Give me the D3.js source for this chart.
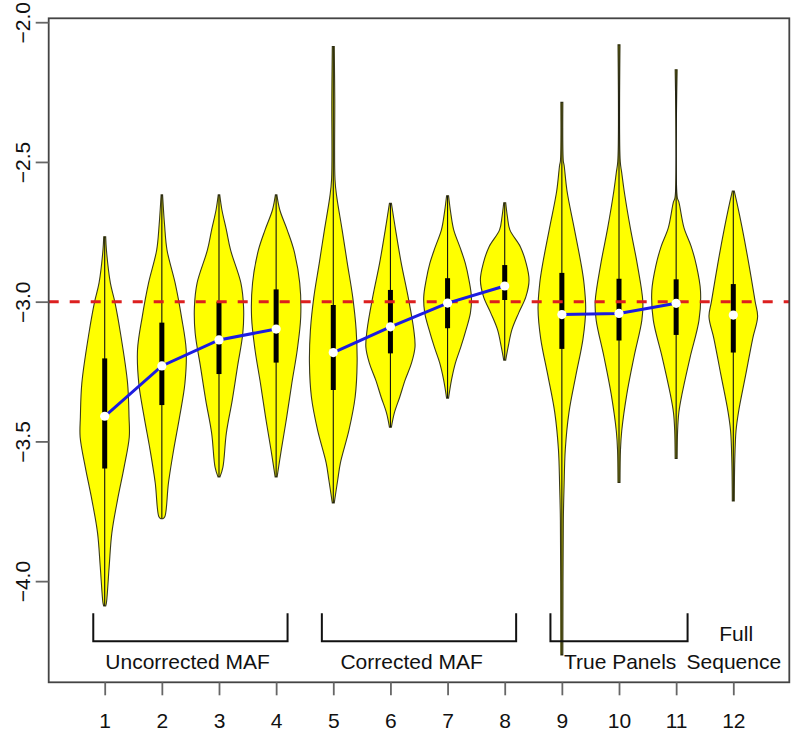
<!DOCTYPE html>
<html><head><meta charset="utf-8">
<script src="https://cdn.jsdelivr.net/npm/d3@7"></script>
<style>body{margin:0;background:#fff}</style>
</head><body>
<svg id="c" width="797" height="732"></svg>
<script>
// ---- data ----
const categories = ["1","2","3","4","5","6","7","8","9","10","11","12"];
const yTicks = [-4.0, -3.5, -3.0, -2.5, -2.0];
const medians = [-3.41, -3.23, -3.137, -3.098, -3.182, -3.09, -3.005, -2.944, -3.046, -3.042, -3.006, -3.048];
const q1 = [-3.597, -3.37, -3.259, -3.218, -3.316, -3.185, -3.095, -2.994, -3.169, -3.139, -3.119, -3.182];
const q3 = [-3.203, -3.075, -3.0, -2.956, -3.012, -2.958, -2.916, -2.869, -2.897, -2.918, -2.92, -2.937];
// density profiles: [value, relative density]
const densities = [
  [[-2.768,0.04],[-2.815,0.07],[-2.933,0.23],[-3.0,0.41],[-3.112,0.64],[-3.291,0.93],[-3.413,0.99],[-3.484,1.0],[-3.592,0.79],[-3.71,0.52],[-3.828,0.29],[-3.95,0.18],[-4.078,0.07],[-4.089,0.04]],
  [[-2.618,0.03],[-2.725,0.11],[-2.815,0.21],[-2.933,0.54],[-3.055,0.8],[-3.172,0.99],[-3.291,0.94],[-3.413,0.72],[-3.53,0.48],[-3.648,0.27],[-3.77,0.12],[-3.777,0.04]],
  [[-2.618,0.03],[-2.672,0.12],[-2.743,0.3],[-2.815,0.47],[-2.933,0.89],[-3.019,1.0],[-3.112,0.97],[-3.234,0.75],[-3.352,0.54],[-3.47,0.3],[-3.592,0.16],[-3.627,0.04]],
  [[-2.618,0.03],[-2.672,0.15],[-2.743,0.45],[-2.815,0.72],[-2.933,0.96],[-3.055,1.0],[-3.172,0.86],[-3.291,0.64],[-3.413,0.43],[-3.53,0.21],[-3.627,0.04]],
  [[-2.087,0.04],[-2.278,0.06],[-2.564,0.07],[-2.624,0.14],[-2.743,0.36],[-2.862,0.57],[-2.983,0.79],[-3.101,0.93],[-3.219,0.97],[-3.341,0.89],[-3.459,0.64],[-3.577,0.29],[-3.638,0.18],[-3.72,0.04]],
  [[-2.648,0.04],[-2.743,0.21],[-2.862,0.44],[-2.983,0.72],[-3.101,0.95],[-3.162,1.0],[-3.219,0.86],[-3.28,0.6],[-3.341,0.38],[-3.398,0.16],[-3.449,0.04]],
  [[-2.621,0.04],[-2.683,0.13],[-2.743,0.25],[-2.804,0.5],[-2.862,0.72],[-2.922,0.87],[-2.983,0.97],[-3.04,0.93],[-3.101,0.75],[-3.162,0.54],[-3.219,0.32],[-3.28,0.16],[-3.345,0.04]],
  [[-2.646,0.04],[-2.696,0.11],[-2.743,0.21],[-2.804,0.64],[-2.862,0.87],[-2.922,0.99],[-2.983,0.86],[-3.04,0.57],[-3.101,0.29],[-3.162,0.14],[-3.209,0.04]],
  [[-2.287,0.04],[-2.498,0.06],[-2.511,0.09],[-2.604,0.21],[-2.736,0.5],[-2.869,0.79],[-2.934,0.9],[-3.026,0.97],[-3.133,0.86],[-3.264,0.57],[-3.396,0.29],[-3.528,0.14],[-3.66,0.09],[-3.781,0.06],[-4.264,0.04]],
  [[-2.081,0.04],[-2.498,0.05],[-2.538,0.11],[-2.604,0.21],[-2.736,0.46],[-2.869,0.75],[-3.0,0.97],[-3.066,0.93],[-3.198,0.61],[-3.33,0.32],[-3.463,0.11],[-3.53,0.06],[-3.647,0.04]],
  [[-2.17,0.04],[-2.629,0.05],[-2.643,0.11],[-2.736,0.32],[-2.802,0.61],[-2.869,0.82],[-2.96,0.99],[-3.066,0.93],[-3.198,0.57],[-3.33,0.24],[-3.396,0.11],[-3.459,0.06],[-3.561,0.04]],
  [[-2.604,0.04],[-2.643,0.14],[-2.736,0.36],[-2.869,0.64],[-3.0,0.89],[-3.053,0.99],[-3.132,0.79],[-3.264,0.5],[-3.396,0.21],[-3.463,0.11],[-3.567,0.06],[-3.713,0.04]]
];
const referenceValue = -3.0;
const trendGroups = [[0,1,2,3],[4,5,6,7],[8,9,10]];
const bracketLabels = ["Uncorrected MAF", "Corrected MAF", "True Panels"];
const bracketFrom = [0.8, 4.8, 8.8];
const bracketTo = [4.2, 8.2, 11.2];
const bracketLabelAt = [2.45, 6.37, 10.02];
const lastLabelLines = ["Full", "Sequence"];

// ---- layout ----
const svg = d3.select("#c");
const x = d3.scaleLinear().domain([0.02, 12.98]).range([48.7, 789.3]);
const y = d3.scaleLinear().domain([-4.362, -1.986]).range([682.3, 18.3]);
const halfW = 0.43; // max half width in x units
const font = "Liberation Sans, Arial, Helvetica, sans-serif";

// violins
densities.forEach((dens, i) => {
  const cx = i + 1;
  const area = d3.area()
    .curve(d3.curveCatmullRom.alpha(0.5))
    .y(d => y(d[0]))
    .x0(d => x(cx - d[1] * halfW))
    .x1(d => x(cx + d[1] * halfW));
  svg.append("path").attr("d", area(dens))
    .attr("fill", "#ffff00").attr("stroke", "#3a3a1a").attr("stroke-width", 1.1);
  const vals = dens.map(d => d[0]);
  svg.append("line")
    .attr("x1", x(cx)).attr("x2", x(cx))
    .attr("y1", y(d3.max(vals))).attr("y2", y(d3.min(vals)))
    .attr("stroke", "#111").attr("stroke-width", 1.1);
  svg.append("line")
    .attr("x1", x(cx)).attr("x2", x(cx))
    .attr("y1", y(q3[i])).attr("y2", y(q1[i]))
    .attr("stroke", "#000").attr("stroke-width", 5);
});

// reference line
svg.append("line")
  .attr("x1", x(0.02)).attr("x2", x(12.98))
  .attr("y1", y(referenceValue)).attr("y2", y(referenceValue))
  .attr("stroke", "#dc1f1f").attr("stroke-width", 3).attr("stroke-dasharray", "10,11");

// trend lines
const line = d3.line().x(i => x(i + 1)).y(i => y(medians[i]));
trendGroups.forEach(g => {
  svg.append("path").attr("d", line(g)).attr("fill", "none")
    .attr("stroke", "#1c1ce0").attr("stroke-width", 3);
});

// medians
medians.forEach((m, i) => {
  svg.append("circle").attr("cx", x(i + 1)).attr("cy", y(m)).attr("r", 4.6).attr("fill", "#fff");
});

// brackets
const bTop = -4.115, bBot = -4.215, bText = -4.29;
bracketLabels.forEach((lab, i) => {
  svg.append("path")
    .attr("d", `M${x(bracketFrom[i])},${y(bTop)}V${y(bBot)}H${x(bracketTo[i])}V${y(bTop)}`)
    .attr("fill", "none").attr("stroke", "#111").attr("stroke-width", 2);
  svg.append("text").attr("x", x(bracketLabelAt[i])).attr("y", y(bText) + 7)
    .attr("text-anchor", "middle").attr("font-family", font).attr("font-size", 21)
    .attr("fill", "#111").text(lab);
});
svg.append("text").attr("x", x(12.05)).attr("y", y(-4.189) + 7)
  .attr("text-anchor", "middle").attr("font-family", font).attr("font-size", 21)
  .attr("fill", "#111").text(lastLabelLines[0]);
svg.append("text").attr("x", x(12.01)).attr("y", y(bText) + 7)
  .attr("text-anchor", "middle").attr("font-family", font).attr("font-size", 21)
  .attr("fill", "#111").text(lastLabelLines[1]);

// box
svg.append("rect").attr("x", 48.7).attr("y", 18.3).attr("width", 789.3 - 48.7).attr("height", 682.3 - 18.3)
  .attr("fill", "none").attr("stroke", "#444").attr("stroke-width", 1.8);

// x axis
const xAxis = d3.axisBottom(x).tickValues(d3.range(1, 13)).tickFormat((d, i) => categories[i]).tickSize(13).tickPadding(18);
const gx = svg.append("g").attr("transform", `translate(0,682.3)`).call(xAxis);
gx.select(".domain").remove();
gx.selectAll(".tick line").attr("stroke", "#666").attr("stroke-width", 1.8);
gx.selectAll(".tick text").attr("font-family", font).attr("font-size", 21).attr("fill", "#111").attr("dy", "0.71em");

// y axis
const yAxis = d3.axisLeft(y).tickValues(yTicks).tickFormat(d3.format(".1f")).tickSize(13);
const gy = svg.append("g").attr("transform", `translate(48.7,0)`).call(yAxis);
gy.select(".domain").remove();
gy.selectAll(".tick line").attr("stroke", "#666").attr("stroke-width", 1.8);
gy.selectAll(".tick text")
  .attr("font-family", font).attr("font-size", 21).attr("fill", "#111")
  .attr("x", null).attr("dy", null)
  .attr("text-anchor", "middle")
  .attr("transform", "translate(-19,0) rotate(-90)")
  .text(d => d3.format(".1f")(d).replace("-", "\u2212"));
</script>
</body></html>
